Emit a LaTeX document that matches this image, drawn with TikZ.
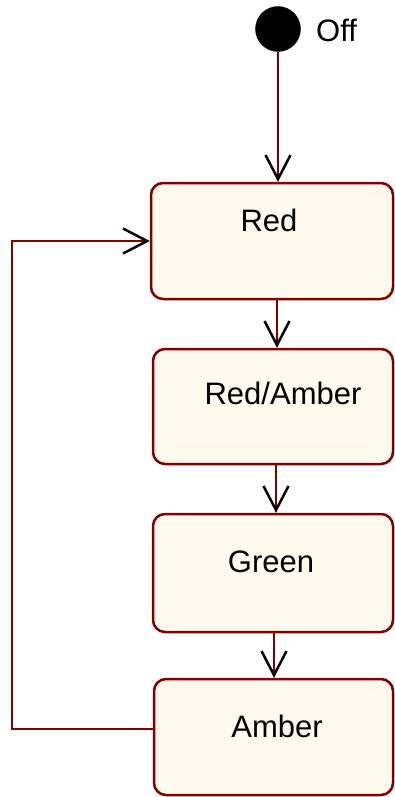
\documentclass[tikz,border=0pt]{standalone}
\usepackage{fontspec}
\setmainfont{Liberation Sans}
\usetikzlibrary{arrows.meta}
\definecolor{edge}{RGB}{128,0,0}
\definecolor{cream}{RGB}{255,249,238}
\tikzset{
  state/.style={draw=edge, fill=cream, line width=2.5pt, rounded corners=12pt, inner sep=0pt},
  lbl/.style={font=\fontsize{31}{31}\selectfont, inner sep=0pt},
  arr/.style={draw=edge, line width=2.5pt, -{Straight Barb[length=24pt,width=25pt,line width=2.5pt,color=black]}},
  initial/.style={circle, fill=black, draw=black, minimum size=45pt, inner sep=0pt}
}
\begin{document}
\begin{tikzpicture}[x=1pt,y=-1pt]
\useasboundingbox (0,0) rectangle (394,797);
\node[initial] (off) at (278,29) {};
\node[lbl, anchor=west] (offl) at (316,30) {Off};
\node[state, minimum width=242pt, minimum height=116pt] (red) at (272,241) {};
\node[state, minimum width=240pt, minimum height=115pt] (ra) at (273,406.5) {};
\node[state, minimum width=240pt, minimum height=118pt] (green) at (273,573) {};
\node[state, minimum width=239pt, minimum height=116pt] (amber) at (273.5,737) {};
\node[lbl] (redl) at (269,220) {Red};
\node[lbl] (ral) at (283,393) {Red/Amber};
\node[lbl] (greenl) at (271,562) {Green};
\node[lbl] (amberl) at (277,726) {Amber};
\draw[arr] (off) -- (off |- red.north);
\draw[arr] ([xshift=5pt]red.south) -- ([xshift=4pt]ra.north);
\draw[arr] ([xshift=3pt]ra.south) -- ([xshift=3pt]green.north);
\draw[arr] ([xshift=1pt]green.south) -- ([xshift=0.5pt]amber.north);
\coordinate (turn) at (12,241);
\draw[arr] ([yshift=8pt]amber.west) -| (turn) -- (red.west);
\end{tikzpicture}
\end{document}
